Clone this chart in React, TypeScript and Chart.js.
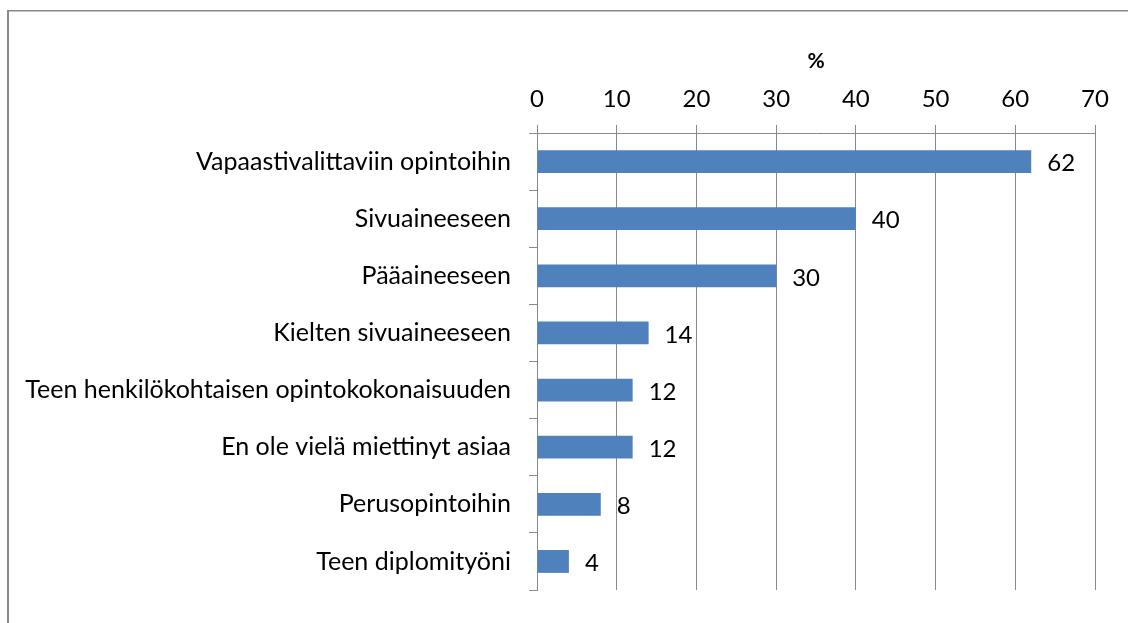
import React, { useEffect, useRef } from "react";
import { Chart, registerables } from "chart.js";

Chart.register(...registerables);

const categories = [
  "Vapaastivalittaviin opintoihin",
  "Sivuaineeseen",
  "Pääaineeseen",
  "Kielten sivuaineeseen",
  "Teen henkilökohtaisen opintokokonaisuuden",
  "En ole vielä miettinyt asiaa",
  "Perusopintoihin",
  "Teen diplomityöni",
];
const values = [62, 40, 30, 14, 12, 12, 8, 4];
const axisMin = 0;
const axisMax = 70;
const axisStep = 10;
const axisTitle = "%";

const FONT = "Lato, 'Noto Sans', sans-serif";
const GRID = "#898989";
const BAR = "#4F81BD";

const framePlugin = {
  id: "frame",
  beforeDraw(chart: any) {
    const ctx = chart.ctx;
    ctx.save();
    ctx.fillStyle = "#ffffff";
    ctx.fillRect(0, 0, chart.width, chart.height);
    ctx.fillStyle = GRID;
    ctx.fillRect(7, 10, chart.width - 7, 1.5);
    ctx.fillRect(7, 10, 2, chart.height - 10);
    ctx.restore();
  },
};

const labelPlugin = {
  id: "barLabels",
  afterDatasetsDraw(chart: any) {
    const ctx = chart.ctx;
    const meta = chart.getDatasetMeta(0);
    ctx.save();
    ctx.font = `24px ${FONT}`;
    ctx.fillStyle = "#000000";
    ctx.textAlign = "left";
    ctx.textBaseline = "middle";
    meta.data.forEach((bar: any, i: number) => {
      ctx.fillText(String(values[i]), bar.x + 16, bar.y + 2);
    });
    ctx.restore();
  },
};

export default function App() {
  const ref = useRef<HTMLCanvasElement>(null);
  useEffect(() => {
    if (!ref.current) return;
    const chart = new Chart(ref.current, {
      type: "bar",
      data: {
        labels: categories,
        datasets: [
          {
            data: values,
            backgroundColor: BAR,
            borderWidth: 0,
            categoryPercentage: 0.8,
            barPercentage: 0.5,
          },
        ],
      },
      options: {
        indexAxis: "y",
        animation: false,
        responsive: false,
        maintainAspectRatio: false,
        layout: { padding: { left: 0, right: 33, top: 0, bottom: 23 } },
        plugins: {
          legend: { display: false },
          tooltip: { enabled: false },
        },
        scales: {
          x: {
            position: "top",
            min: axisMin,
            max: axisMax,
            ticks: {
              stepSize: axisStep,
              color: "#000000",
              font: { family: FONT, size: 24 },
              padding: 11,
            },
            grid: {
              color: GRID,
              lineWidth: 1,
              drawTicks: true,
              tickLength: 8,
            },
            border: { display: true, color: GRID, width: 1 },
            title: {
              display: true,
              text: axisTitle,
              color: "#000000",
              font: { family: FONT, size: 21, weight: "bold" },
              padding: { top: 49, bottom: 0 },
            },
            afterFit(scale: any) {
              scale.height = 133;
            },
          },
          y: {
            offset: true,
            ticks: {
              color: "#000000",
              font: { family: FONT, size: 25 },
              padding: 18,
            },
            grid: {
              offset: true,
              drawOnChartArea: false,
              drawTicks: true,
              tickLength: 8,
              color: GRID,
              lineWidth: 1,
            },
            border: { display: true, color: GRID, width: 1 },
            afterFit(scale: any) {
              scale.width = 537;
            },
          },
        },
      },
      plugins: [framePlugin, labelPlugin],
    });
    return () => chart.destroy();
  }, []);
  return (
    <div style={{ position: "absolute", left: 0, top: 0, width: 1128, height: 623 }}>
      <canvas ref={ref} width={1128} height={623} style={{ width: 1128, height: 623 }} />
    </div>
  );
}
